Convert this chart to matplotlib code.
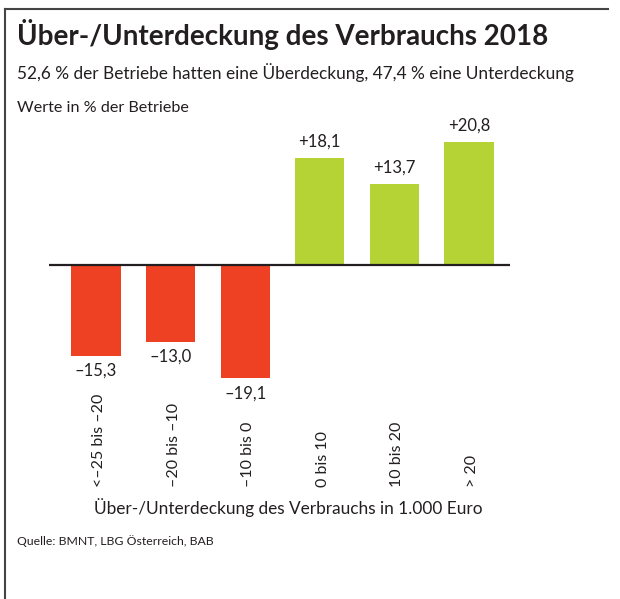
import matplotlib
matplotlib.use("Agg")
import matplotlib.pyplot as plt
from matplotlib.lines import Line2D
from matplotlib.transforms import blended_transform_factory

plt.rcParams["font.family"] = ["Lato", "DejaVu Sans"]

# Data
categories = ["<\u201325 bis \u201320", "\u201320 bis \u201310", "\u201310 bis 0",
              "0 bis 10", "10 bis 20", "> 20"]
values = [-15.3, -13.0, -19.1, 18.1, 13.7, 20.8]

title = "Über-/Unterdeckung des Verbrauchs 2018"
subtitle = "52,6 % der Betriebe hatten eine Überdeckung, 47,4 % eine Unterdeckung"
unit_note = "Werte in % der Betriebe"
xlabel = "Über-/Unterdeckung des Verbrauchs in 1.000 Euro"
source = "Quelle: BMNT, LBG Österreich, BAB"

RED = "#EE4124"
GREEN = "#B5D334"
DARK = "#231F20"

W, H = 620, 599
fig = plt.figure(figsize=(W / 100, H / 100), dpi=100)


def px(x, y):
    return x / W, 1 - y / H


# axes placed in pixel terms
left, right, top, bottom = 49, 510, 120, 400
ax = fig.add_axes([left / W, 1 - bottom / H, (right - left) / W, (bottom - top) / H])

xs = list(range(len(values)))
colors = [RED if v < 0 else GREEN for v in values]
ax.bar(xs, values, width=0.66, color=colors, zorder=2)
ax.axhline(0, color=DARK, lw=1.6, zorder=3)

ax.set_xlim(-0.63, 5.55)
ax.set_ylim(-22.77, 24.45)
ax.axis("off")


def fmt(v):
    s = f"{abs(v):.1f}".replace(".", ",")
    return ("+" if v > 0 else "\u2013") + s


for x, v in zip(xs, values):
    if v > 0:
        ax.annotate(fmt(v), (x, v), xytext=(0, 6), textcoords="offset points",
                    ha="center", va="bottom", fontsize=12, color=DARK)
    else:
        ax.annotate(fmt(v), (x, v), xytext=(0, -5), textcoords="offset points",
                    ha="center", va="top", fontsize=12, color=DARK)

# category labels, rotated, aligned at their start
trans = blended_transform_factory(ax.transData, fig.transFigure)
for x, lab in zip(xs, categories):
    ax.text(x + 0.04, 1 - 487 / H, lab, transform=trans, rotation=90,
            rotation_mode="anchor", ha="left", va="center",
            fontsize=11.5, color=DARK)

fig.text(*px(288, 508), xlabel, ha="center", va="center", fontsize=12.4, color=DARK)

# titles
fig.text(*px(17, 35), title, ha="left", va="center", fontsize=20,
         fontweight="bold", color=DARK)
fig.text(*px(17, 73), subtitle, ha="left", va="center", fontsize=12.4, color=DARK)
fig.text(*px(17, 108), unit_note, ha="left", va="center", fontsize=11.6, color=DARK)
fig.text(*px(17, 541), source, ha="left", va="center", fontsize=8.8, color=DARK)

# frame lines (top and left)
fig.add_artist(Line2D([5 / W, 608 / W], [1 - 9 / H, 1 - 9 / H], color="#444444",
                      lw=1.5, transform=fig.transFigure))
fig.add_artist(Line2D([5 / W, 5 / W], [1 - 9 / H, 0], color="#444444",
                      lw=1.5, transform=fig.transFigure))

fig.savefig("out.png", dpi=100)
